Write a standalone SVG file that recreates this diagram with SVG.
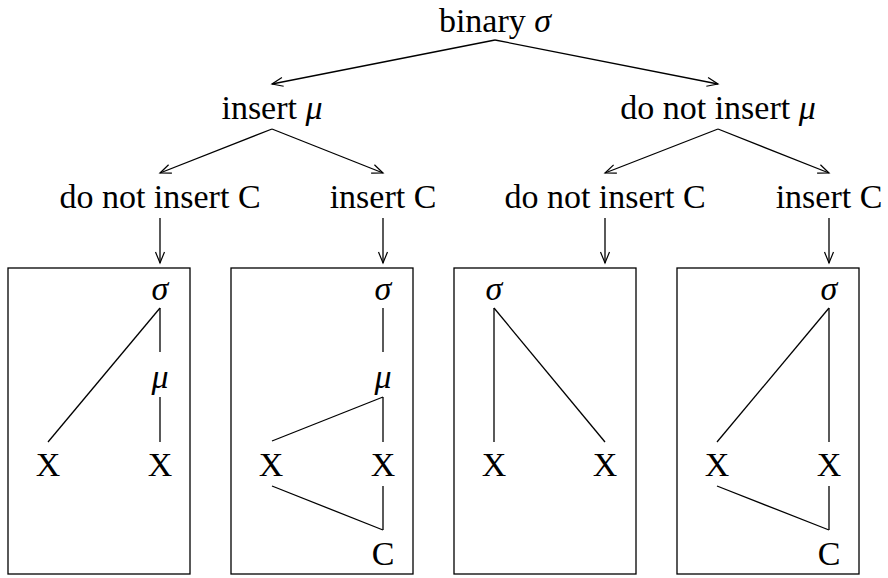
<svg xmlns="http://www.w3.org/2000/svg" width="888" height="578" viewBox="0 0 888 578">
<defs>
<marker id="ah" markerUnits="userSpaceOnUse" markerWidth="14" markerHeight="12" refX="12" refY="6" orient="auto">
<path d="M1,1.5 L12,6 L1,10.5" fill="none" stroke="#000" stroke-width="1.2"/>
</marker>
</defs>
<style>
text{font-family:"Liberation Serif","Times New Roman",serif;font-size:34px;fill:#000;text-anchor:middle}
.m{font-style:italic}
.c line{stroke:#000;stroke-width:1.3}
.a{marker-end:url(#ah)}
.box{fill:none;stroke:#000;stroke-width:1.3}
</style>
<rect width="888" height="578" fill="#fff"/>
<g id="n-root"><text x="495" y="32">binary <tspan class="m">σ</tspan></text></g>
<g id="n-ins-mu"><text x="272" y="119">insert <tspan class="m">μ</tspan></text></g>
<g id="n-noins-mu"><text x="718" y="119">do not insert <tspan class="m">μ</tspan></text></g>
<g id="n-l1"><text x="160" y="208">do not insert C</text></g>
<g id="n-l2"><text x="383" y="208">insert C</text></g>
<g id="n-l3"><text x="605" y="208">do not insert C</text></g>
<g id="n-l4"><text x="829" y="208">insert C</text></g>

<g id="box1">
<rect class="box" x="8" y="268" width="182" height="306"/>
<text class="m" x="160" y="300">σ</text>
<text class="m" x="160" y="388">μ</text>
<text x="48" y="476">X</text>
<text x="160" y="476">X</text>
<g class="c"><line x1="160" y1="308" x2="160" y2="352"/><line x1="160" y1="397" x2="160" y2="442"/><line x1="160" y1="308" x2="48" y2="442"/></g>
</g>
<g id="box2">
<rect class="box" x="231" y="268" width="182" height="306"/>
<text class="m" x="383" y="300">σ</text>
<text class="m" x="383" y="388">μ</text>
<text x="271" y="476">X</text>
<text x="383" y="476">X</text>
<text x="383" y="565">C</text>
<g class="c"><line x1="383" y1="308" x2="383" y2="352"/><line x1="383" y1="397" x2="383" y2="442"/><line x1="383" y1="397" x2="272" y2="441"/><line x1="383" y1="486" x2="383" y2="530"/><line x1="272" y1="486" x2="383" y2="530"/></g>
</g>
<g id="box3">
<rect class="box" x="454" y="268" width="182" height="306"/>
<text class="m" x="494" y="300">σ</text>
<text x="494" y="476">X</text>
<text x="605" y="476">X</text>
<g class="c"><line x1="494" y1="308" x2="494" y2="442"/><line x1="494" y1="308" x2="605" y2="442"/></g>
</g>
<g id="box4">
<rect class="box" x="677" y="268" width="182" height="306"/>
<text class="m" x="829" y="300">σ</text>
<text x="717" y="476">X</text>
<text x="829" y="476">X</text>
<text x="829" y="565">C</text>
<g class="c"><line x1="829" y1="308" x2="829" y2="442"/><line x1="829" y1="308" x2="717" y2="442"/><line x1="829" y1="486" x2="829" y2="530"/><line x1="717" y1="486" x2="829" y2="530"/></g>
</g>

<g id="connectors" class="c">
<line class="a" x1="495" y1="40" x2="272" y2="84"/>
<line class="a" x1="495" y1="40" x2="718" y2="84"/>
<line class="a" x1="272" y1="129" x2="160" y2="173"/>
<line class="a" x1="272" y1="129" x2="383" y2="173"/>
<line class="a" x1="718" y1="129" x2="605" y2="173"/>
<line class="a" x1="718" y1="129" x2="829" y2="173"/>
<line class="a" x1="160" y1="218" x2="160" y2="263"/>
<line class="a" x1="383" y1="218" x2="383" y2="263"/>
<line class="a" x1="605" y1="218" x2="605" y2="263"/>
<line class="a" x1="829" y1="218" x2="829" y2="263"/>
</g>
</svg>
